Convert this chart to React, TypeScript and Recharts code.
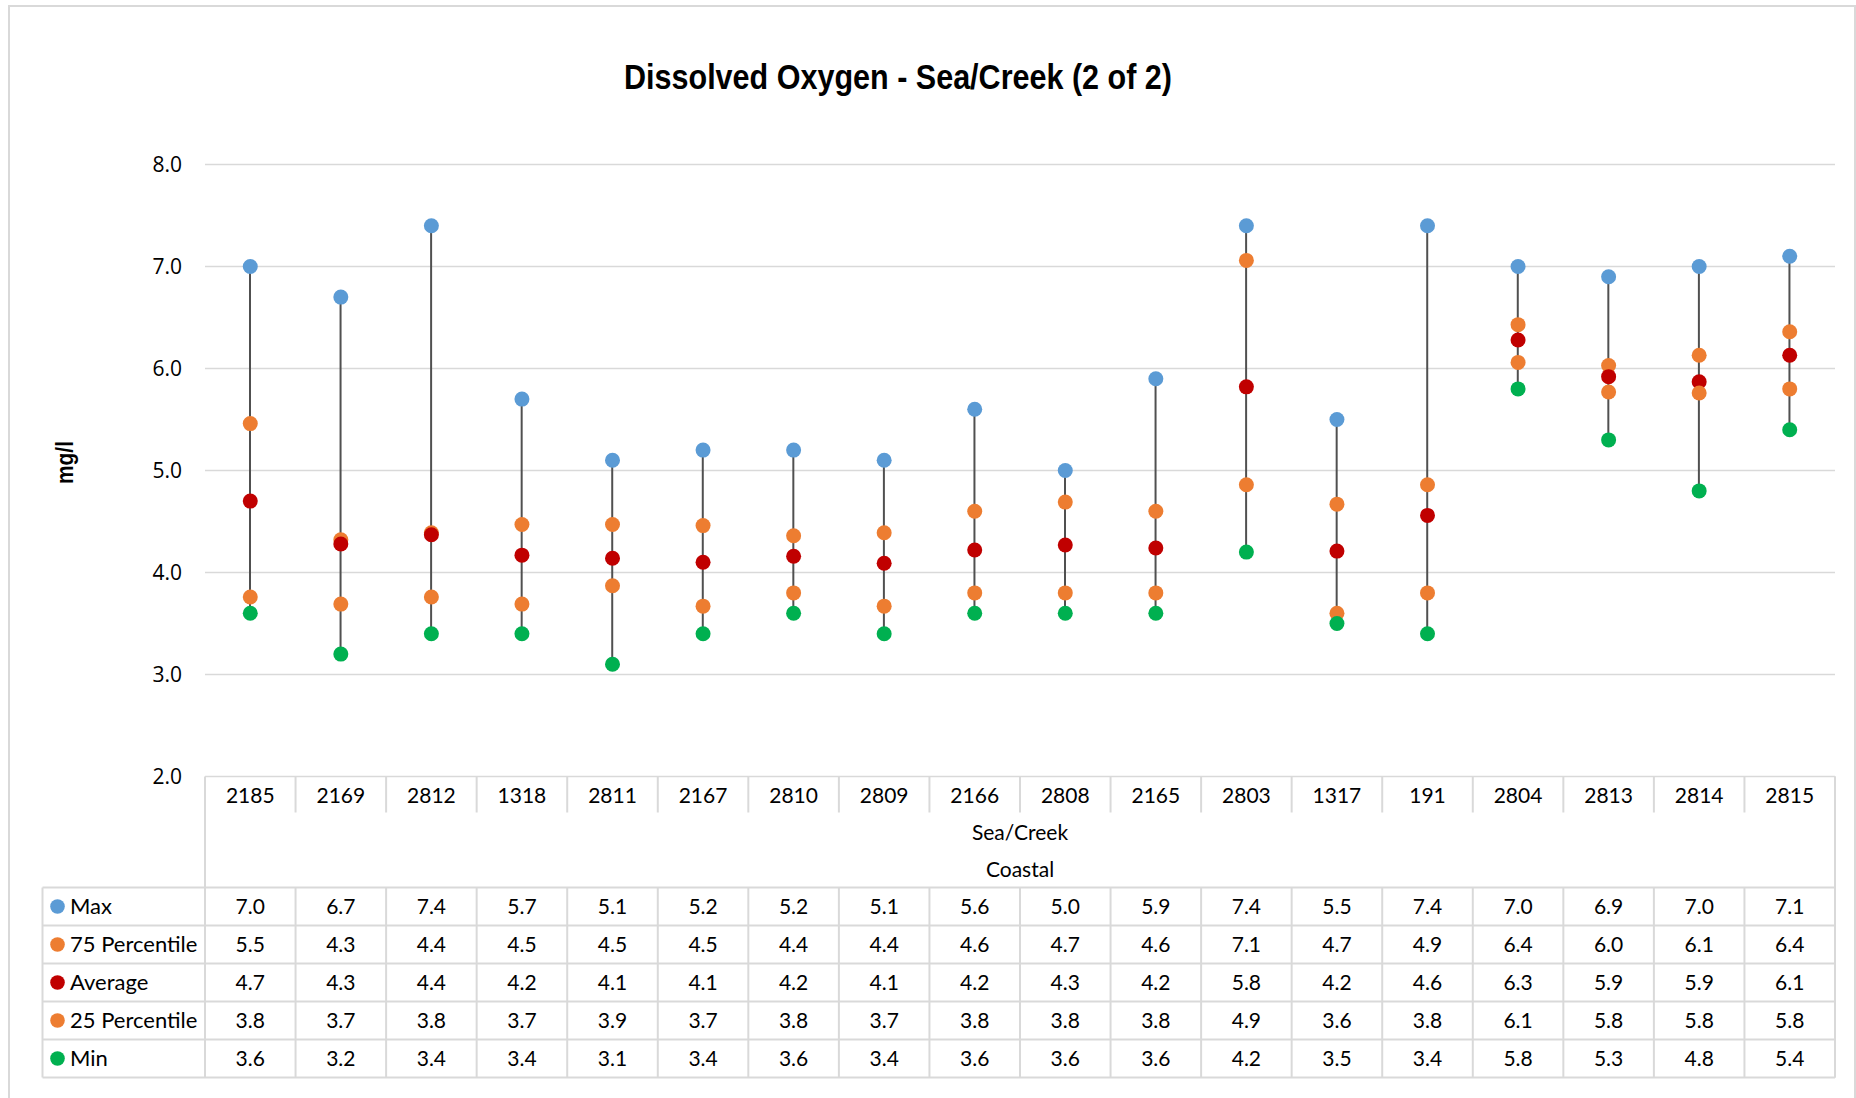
import React from "react";
import { ComposedChart, Bar, Line, XAxis, YAxis, CartesianGrid } from "recharts";

// monitoring stations (x categories)
const sites = ["2185", "2169", "2812", "1318", "2811", "2167", "2810", "2809", "2166", "2808", "2165", "2803", "1317", "191", "2804", "2813", "2814", "2815"];

// values (mg/l)
const maxVals = [7.0, 6.7, 7.4, 5.7, 5.1, 5.2, 5.2, 5.1, 5.6, 5.0, 5.9, 7.4, 5.5, 7.4, 7.0, 6.9, 7.0, 7.1];
const p75Vals = [5.46, 4.32, 4.39, 4.47, 4.47, 4.46, 4.36, 4.39, 4.6, 4.69, 4.6, 7.06, 4.67, 4.86, 6.43, 6.03, 6.13, 6.36];
const avgVals = [4.7, 4.28, 4.37, 4.17, 4.14, 4.1, 4.16, 4.09, 4.22, 4.27, 4.24, 5.82, 4.21, 4.56, 6.28, 5.92, 5.87, 6.13];
const p25Vals = [3.76, 3.69, 3.76, 3.69, 3.87, 3.67, 3.8, 3.67, 3.8, 3.8, 3.8, 4.86, 3.6, 3.8, 6.06, 5.77, 5.76, 5.8];
const minVals = [3.6, 3.2, 3.4, 3.4, 3.1, 3.4, 3.6, 3.4, 3.6, 3.6, 3.6, 4.2, 3.5, 3.4, 5.8, 5.3, 4.8, 5.4];

const yTicks = [2, 3, 4, 5, 6, 7, 8];

const series = [
  { key: "max", name: "Max", color: "#5B9BD5", values: maxVals },
  { key: "p75", name: "75 Percentile", color: "#ED7D31", values: p75Vals },
  { key: "avg", name: "Average", color: "#C00000", values: avgVals },
  { key: "p25", name: "25 Percentile", color: "#ED7D31", values: p25Vals },
  { key: "min", name: "Min", color: "#00B050", values: minVals },
];

const data = sites.map((site, i) => {
  const row: any = { site, range: [minVals[i], maxVals[i]] };
  series.forEach((s) => (row[s.key] = s.values[i]));
  return row;
});

// layout
const W = 1856;
const H = 1098;
const PLOT_L = 205;
const PLOT_R = 1835;
const PLOT_T = 164.5;
const PLOT_B = 776.5;
const Y_AXIS_W = 60;
const HEADER_H = 36;
const ROWS_TOP = 111; // offset of first data row below the plot
const ROW_H = 38;
const TABLE_LEFT = 42.5;

const GRID = "#d9d9d9";
const TABLE_FONT = "Lato, 'Open Sans', sans-serif";

const TableTick = (props: any) => {
  const { x, y, payload, index } = props;
  const colW = (PLOT_R - PLOT_L) / sites.length;
  const right = x + colW / 2;
  return (
    <g>
      <text x={x} y={y + HEADER_H / 2} textAnchor="middle" dominantBaseline="central" fontSize={21} fontFamily={TABLE_FONT} fill="#000">
        {payload.value}
      </text>
      <line x1={right} x2={right} y1={y} y2={y + HEADER_H} stroke={GRID} strokeWidth={2} />
      <line x1={right} x2={right} y1={y + ROWS_TOP} y2={y + ROWS_TOP + ROW_H * series.length} stroke={GRID} strokeWidth={2} />
      {series.map((s, r) => (
        <text key={s.key} x={x} y={y + ROWS_TOP + ROW_H * r + ROW_H / 2 - 1} textAnchor="middle" dominantBaseline="central" fontSize={21} fontFamily={TABLE_FONT} fill="#000">
          {s.values[index].toFixed(1)}
        </text>
      ))}
    </g>
  );
};

export default function App() {
  const rowsBottom = PLOT_B + ROWS_TOP + ROW_H * series.length;
  return (
    <div style={{ position: "absolute", left: 0, top: 0, width: W, height: H, background: "#fff" }}>
      <ComposedChart
        width={W}
        height={H}
        data={data}
        margin={{ top: PLOT_T, right: W - PLOT_R, bottom: 0, left: PLOT_L - Y_AXIS_W }}
      >
        <CartesianGrid vertical={false} stroke={GRID} strokeWidth={1.5} />
        <YAxis
          width={Y_AXIS_W}
          domain={[2, 8]}
          ticks={yTicks}
          axisLine={false}
          tickLine={false}
          tickSize={0}
          tickMargin={23}
          tickFormatter={(v: number) => v.toFixed(1)}
          tick={{ fontSize: 21, fontFamily: "'Open Sans', sans-serif", fill: "#000" }}
        />
        <XAxis
          dataKey="site"
          height={H - PLOT_B}
          axisLine={false}
          tickLine={false}
          tickSize={0}
          tickMargin={0}
          interval={0}
          tick={<TableTick />}
        />
        <Bar dataKey="range" barSize={2} fill="#505050" isAnimationActive={false} />
        {series.map((s) => (
          <Line
            key={s.key}
            dataKey={s.key}
            name={s.name}
            stroke="none"
            dot={{ r: 7.5, fill: s.color, stroke: "none" }}
            activeDot={false}
            isAnimationActive={false}
          />
        ))}
      </ComposedChart>
      <svg width={W} height={H} style={{ position: "absolute", left: 0, top: 0, pointerEvents: "none" }}>
        <rect x={9} y={6} width={W - 10} height={H} fill="none" stroke={GRID} strokeWidth={2} />
        <text
          x={624}
          y={89}
          textLength={548}
          lengthAdjust="spacingAndGlyphs"
          fontSize={35}
          fontWeight="bold"
          fontFamily="'Liberation Sans', Arial, sans-serif"
          fill="#000"
        >
          Dissolved Oxygen - Sea/Creek (2 of 2)
        </text>
        <text
          x={0}
          y={0}
          transform={`translate(73, ${(PLOT_T + PLOT_B) / 2 - 8}) rotate(-90)`}
          textAnchor="middle"
          textLength={43}
          lengthAdjust="spacingAndGlyphs"
          fontSize={24}
          fontWeight="bold"
          fontFamily="'Liberation Sans', Arial, sans-serif"
          fill="#000"
        >
          mg/l
        </text>
        {/* table frame */}
        <line x1={PLOT_L} x2={PLOT_L} y1={PLOT_B} y2={rowsBottom} stroke={GRID} strokeWidth={2} />
        <line x1={PLOT_R} x2={PLOT_R} y1={PLOT_B} y2={rowsBottom} stroke={GRID} strokeWidth={2} />
        <line x1={TABLE_LEFT} x2={TABLE_LEFT} y1={PLOT_B + ROWS_TOP} y2={rowsBottom} stroke={GRID} strokeWidth={2} />
        {series.map((s, r) => (
          <line key={"h" + s.key} x1={TABLE_LEFT} x2={PLOT_R} y1={PLOT_B + ROWS_TOP + ROW_H * r} y2={PLOT_B + ROWS_TOP + ROW_H * r} stroke={GRID} strokeWidth={2} />
        ))}
        <line x1={TABLE_LEFT} x2={PLOT_R} y1={rowsBottom} y2={rowsBottom} stroke={GRID} strokeWidth={2} />
        <text x={(PLOT_L + PLOT_R) / 2} y={831} textAnchor="middle" dominantBaseline="central" fontSize={21} fontFamily={TABLE_FONT} fill="#000">
          Sea/Creek
        </text>
        <text x={(PLOT_L + PLOT_R) / 2} y={868} textAnchor="middle" dominantBaseline="central" fontSize={21} fontFamily={TABLE_FONT} fill="#000">
          Coastal
        </text>
        {series.map((s, r) => {
          const cy = PLOT_B + ROWS_TOP + ROW_H * r + ROW_H / 2;
          return (
            <g key={"lg" + s.key}>
              <circle cx={57.5} cy={cy} r={7.3} fill={s.color} />
              <text x={70} y={cy - 1} dominantBaseline="central" fontSize={22} fontFamily={TABLE_FONT} fill="#000">
                {s.name}
              </text>
            </g>
          );
        })}
      </svg>
    </div>
  );
}
